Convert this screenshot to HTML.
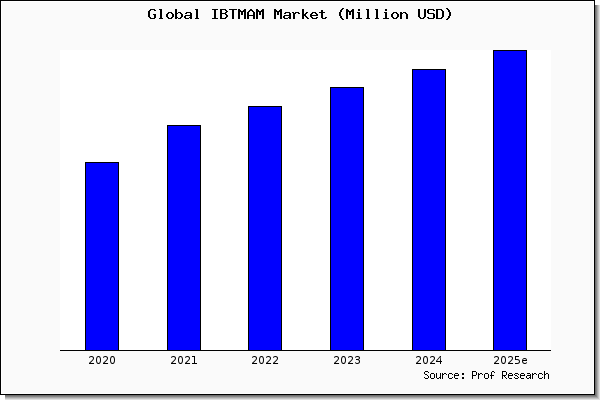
<!DOCTYPE html>
<html><head><meta charset="utf-8"><title>Global IBTMAM Market (Million USD)</title>
<style>
html,body{margin:0;padding:0;background:#fff;width:600px;height:400px;overflow:hidden;font-family:"Liberation Sans",sans-serif}
svg{display:block;position:absolute;left:0;top:0}
</style></head><body>
<svg width="600" height="400" viewBox="0 0 600 400">
<g shape-rendering="crispEdges">
<rect x="0" y="0" width="600" height="400" fill="#fff"/>
<rect x="5" y="5" width="595" height="395" fill="#e0e0e0"/><rect x="5" y="5" width="594" height="394" fill="#c4c4c4"/><rect x="5" y="5" width="593" height="393" fill="#a8a8a8"/><rect x="5" y="5" width="592" height="392" fill="#888888"/><rect x="5" y="5" width="591" height="391" fill="#707070"/>
<rect x="0" y="0" width="595" height="395" fill="#000"/>
<rect x="1" y="1" width="593" height="393" fill="#fff"/>
<rect x="2" y="2" width="591" height="391" fill="#fafafa"/>
<rect x="60" y="50" width="491" height="300" fill="#fff"/>
<rect x="85" y="162" width="34" height="189" fill="#000"/><rect x="86" y="163" width="32" height="187" fill="#00f"/><rect x="167" y="125" width="34" height="226" fill="#000"/><rect x="168" y="126" width="32" height="224" fill="#00f"/><rect x="248" y="106" width="34" height="245" fill="#000"/><rect x="249" y="107" width="32" height="243" fill="#00f"/><rect x="330" y="87" width="34" height="264" fill="#000"/><rect x="331" y="88" width="32" height="262" fill="#00f"/><rect x="412" y="69" width="34" height="282" fill="#000"/><rect x="413" y="70" width="32" height="280" fill="#00f"/><rect x="493" y="50" width="34" height="301" fill="#000"/><rect x="494" y="51" width="32" height="299" fill="#00f"/>
<rect x="60" y="350" width="491" height="1" fill="#000"/>
<path fill="#000" d="M342 8h2v1h-2zM446 8h2v1h-2zM150 9h5v1h-5zM159 9h3v1h-3zM175 9h2v1h-2zM195 9h3v1h-3zM212 9h6v1h-6zM220 9h6v1h-6zM229 9h8v1h-8zM238 9h2v1h-2zM244 9h2v1h-2zM250 9h2v1h-2zM256 9h2v1h-2zM262 9h2v1h-2zM274 9h2v1h-2zM280 9h2v1h-2zM302 9h2v1h-2zM341 9h2v1h-2zM346 9h2v1h-2zM352 9h2v1h-2zM358 9h2v1h-2zM366 9h3v1h-3zM375 9h3v1h-3zM385 9h2v1h-2zM418 9h2v1h-2zM424 9h2v1h-2zM428 9h6v1h-6zM436 9h6v1h-6zM447 9h2v1h-2zM149 10h2v1h-2zM154 10h2v1h-2zM160 10h2v1h-2zM175 10h2v1h-2zM196 10h2v1h-2zM214 10h2v1h-2zM220 10h2v1h-2zM225 10h2v1h-2zM232 10h2v1h-2zM238 10h3v1h-3zM243 10h3v1h-3zM249 10h4v1h-4zM256 10h3v1h-3zM261 10h3v1h-3zM274 10h3v1h-3zM279 10h3v1h-3zM302 10h2v1h-2zM321 10h2v1h-2zM340 10h2v1h-2zM346 10h3v1h-3zM351 10h3v1h-3zM358 10h2v1h-2zM367 10h2v1h-2zM376 10h2v1h-2zM385 10h2v1h-2zM418 10h2v1h-2zM424 10h2v1h-2zM427 10h2v1h-2zM433 10h2v1h-2zM436 10h2v1h-2zM441 10h2v1h-2zM448 10h2v1h-2zM148 11h2v1h-2zM160 11h2v1h-2zM175 11h2v1h-2zM196 11h2v1h-2zM214 11h2v1h-2zM220 11h2v1h-2zM226 11h2v1h-2zM232 11h2v1h-2zM238 11h8v1h-8zM248 11h2v1h-2zM252 11h2v1h-2zM256 11h8v1h-8zM274 11h8v1h-8zM302 11h2v1h-2zM321 11h2v1h-2zM340 11h2v1h-2zM346 11h8v1h-8zM367 11h2v1h-2zM376 11h2v1h-2zM418 11h2v1h-2zM424 11h2v1h-2zM427 11h2v1h-2zM436 11h2v1h-2zM442 11h2v1h-2zM448 11h2v1h-2zM148 12h2v1h-2zM160 12h2v1h-2zM168 12h4v1h-4zM175 12h2v1h-2zM178 12h3v1h-3zM186 12h5v1h-5zM196 12h2v1h-2zM214 12h2v1h-2zM220 12h2v1h-2zM225 12h2v1h-2zM232 12h2v1h-2zM238 12h2v1h-2zM241 12h2v1h-2zM244 12h2v1h-2zM247 12h2v1h-2zM253 12h2v1h-2zM256 12h2v1h-2zM259 12h2v1h-2zM262 12h2v1h-2zM274 12h2v1h-2zM277 12h2v1h-2zM280 12h2v1h-2zM285 12h5v1h-5zM292 12h2v1h-2zM295 12h4v1h-4zM302 12h2v1h-2zM306 12h2v1h-2zM312 12h4v1h-4zM319 12h6v1h-6zM339 12h2v1h-2zM346 12h2v1h-2zM349 12h2v1h-2zM352 12h2v1h-2zM357 12h3v1h-3zM367 12h2v1h-2zM376 12h2v1h-2zM384 12h3v1h-3zM393 12h4v1h-4zM400 12h2v1h-2zM403 12h3v1h-3zM418 12h2v1h-2zM424 12h2v1h-2zM427 12h2v1h-2zM436 12h2v1h-2zM442 12h2v1h-2zM449 12h2v1h-2zM148 13h2v1h-2zM160 13h2v1h-2zM167 13h2v1h-2zM171 13h2v1h-2zM175 13h3v1h-3zM180 13h2v1h-2zM185 13h2v1h-2zM190 13h2v1h-2zM196 13h2v1h-2zM214 13h2v1h-2zM220 13h6v1h-6zM232 13h2v1h-2zM238 13h2v1h-2zM241 13h2v1h-2zM244 13h2v1h-2zM247 13h2v1h-2zM253 13h2v1h-2zM256 13h2v1h-2zM259 13h2v1h-2zM262 13h2v1h-2zM274 13h2v1h-2zM277 13h2v1h-2zM280 13h2v1h-2zM284 13h2v1h-2zM289 13h2v1h-2zM293 13h3v1h-3zM298 13h2v1h-2zM302 13h2v1h-2zM305 13h2v1h-2zM311 13h2v1h-2zM315 13h2v1h-2zM321 13h2v1h-2zM339 13h2v1h-2zM346 13h2v1h-2zM349 13h2v1h-2zM352 13h2v1h-2zM358 13h2v1h-2zM367 13h2v1h-2zM376 13h2v1h-2zM385 13h2v1h-2zM392 13h2v1h-2zM396 13h2v1h-2zM400 13h3v1h-3zM405 13h2v1h-2zM418 13h2v1h-2zM424 13h2v1h-2zM428 13h6v1h-6zM436 13h2v1h-2zM442 13h2v1h-2zM449 13h2v1h-2zM148 14h2v1h-2zM153 14h3v1h-3zM160 14h2v1h-2zM166 14h2v1h-2zM172 14h2v1h-2zM175 14h2v1h-2zM181 14h2v1h-2zM190 14h2v1h-2zM196 14h2v1h-2zM214 14h2v1h-2zM220 14h2v1h-2zM225 14h2v1h-2zM232 14h2v1h-2zM238 14h2v1h-2zM241 14h2v1h-2zM244 14h2v1h-2zM247 14h2v1h-2zM253 14h2v1h-2zM256 14h2v1h-2zM259 14h2v1h-2zM262 14h2v1h-2zM274 14h2v1h-2zM277 14h2v1h-2zM280 14h2v1h-2zM289 14h2v1h-2zM293 14h2v1h-2zM302 14h4v1h-4zM310 14h2v1h-2zM316 14h2v1h-2zM321 14h2v1h-2zM339 14h2v1h-2zM346 14h2v1h-2zM349 14h2v1h-2zM352 14h2v1h-2zM358 14h2v1h-2zM367 14h2v1h-2zM376 14h2v1h-2zM385 14h2v1h-2zM391 14h2v1h-2zM397 14h2v1h-2zM400 14h2v1h-2zM406 14h2v1h-2zM418 14h2v1h-2zM424 14h2v1h-2zM433 14h2v1h-2zM436 14h2v1h-2zM442 14h2v1h-2zM449 14h2v1h-2zM148 15h2v1h-2zM154 15h2v1h-2zM160 15h2v1h-2zM166 15h2v1h-2zM172 15h2v1h-2zM175 15h2v1h-2zM181 15h2v1h-2zM185 15h7v1h-7zM196 15h2v1h-2zM214 15h2v1h-2zM220 15h2v1h-2zM226 15h2v1h-2zM232 15h2v1h-2zM238 15h2v1h-2zM244 15h2v1h-2zM247 15h8v1h-8zM256 15h2v1h-2zM262 15h2v1h-2zM274 15h2v1h-2zM280 15h2v1h-2zM284 15h7v1h-7zM293 15h2v1h-2zM302 15h4v1h-4zM310 15h8v1h-8zM321 15h2v1h-2zM339 15h2v1h-2zM346 15h2v1h-2zM352 15h2v1h-2zM358 15h2v1h-2zM367 15h2v1h-2zM376 15h2v1h-2zM385 15h2v1h-2zM391 15h2v1h-2zM397 15h2v1h-2zM400 15h2v1h-2zM406 15h2v1h-2zM418 15h2v1h-2zM424 15h2v1h-2zM433 15h2v1h-2zM436 15h2v1h-2zM442 15h2v1h-2zM449 15h2v1h-2zM148 16h2v1h-2zM154 16h2v1h-2zM160 16h2v1h-2zM166 16h2v1h-2zM172 16h2v1h-2zM175 16h2v1h-2zM181 16h2v1h-2zM184 16h2v1h-2zM190 16h2v1h-2zM196 16h2v1h-2zM214 16h2v1h-2zM220 16h2v1h-2zM226 16h2v1h-2zM232 16h2v1h-2zM238 16h2v1h-2zM244 16h2v1h-2zM247 16h2v1h-2zM253 16h2v1h-2zM256 16h2v1h-2zM262 16h2v1h-2zM274 16h2v1h-2zM280 16h2v1h-2zM283 16h2v1h-2zM289 16h2v1h-2zM293 16h2v1h-2zM302 16h2v1h-2zM305 16h2v1h-2zM310 16h2v1h-2zM321 16h2v1h-2zM340 16h2v1h-2zM346 16h2v1h-2zM352 16h2v1h-2zM358 16h2v1h-2zM367 16h2v1h-2zM376 16h2v1h-2zM385 16h2v1h-2zM391 16h2v1h-2zM397 16h2v1h-2zM400 16h2v1h-2zM406 16h2v1h-2zM418 16h2v1h-2zM424 16h2v1h-2zM433 16h2v1h-2zM436 16h2v1h-2zM442 16h2v1h-2zM448 16h2v1h-2zM149 17h2v1h-2zM154 17h2v1h-2zM160 17h2v1h-2zM167 17h2v1h-2zM171 17h2v1h-2zM175 17h3v1h-3zM180 17h2v1h-2zM184 17h2v1h-2zM189 17h3v1h-3zM196 17h2v1h-2zM214 17h2v1h-2zM220 17h2v1h-2zM225 17h2v1h-2zM232 17h2v1h-2zM238 17h2v1h-2zM244 17h2v1h-2zM247 17h2v1h-2zM253 17h2v1h-2zM256 17h2v1h-2zM262 17h2v1h-2zM274 17h2v1h-2zM280 17h2v1h-2zM283 17h2v1h-2zM288 17h3v1h-3zM293 17h2v1h-2zM302 17h2v1h-2zM306 17h2v1h-2zM311 17h2v1h-2zM316 17h2v1h-2zM321 17h2v1h-2zM325 17h2v1h-2zM340 17h2v1h-2zM346 17h2v1h-2zM352 17h2v1h-2zM358 17h2v1h-2zM367 17h2v1h-2zM376 17h2v1h-2zM385 17h2v1h-2zM392 17h2v1h-2zM396 17h2v1h-2zM400 17h2v1h-2zM406 17h2v1h-2zM419 17h2v1h-2zM423 17h2v1h-2zM427 17h2v1h-2zM433 17h2v1h-2zM436 17h2v1h-2zM441 17h2v1h-2zM448 17h2v1h-2zM150 18h5v1h-5zM159 18h4v1h-4zM168 18h4v1h-4zM175 18h2v1h-2zM178 18h3v1h-3zM185 18h4v1h-4zM190 18h2v1h-2zM195 18h4v1h-4zM212 18h6v1h-6zM220 18h6v1h-6zM232 18h2v1h-2zM238 18h2v1h-2zM244 18h2v1h-2zM247 18h2v1h-2zM253 18h2v1h-2zM256 18h2v1h-2zM262 18h2v1h-2zM274 18h2v1h-2zM280 18h2v1h-2zM284 18h4v1h-4zM289 18h2v1h-2zM293 18h2v1h-2zM302 18h2v1h-2zM307 18h2v1h-2zM312 18h5v1h-5zM322 18h4v1h-4zM341 18h2v1h-2zM346 18h2v1h-2zM352 18h2v1h-2zM356 18h6v1h-6zM366 18h4v1h-4zM375 18h4v1h-4zM383 18h6v1h-6zM393 18h4v1h-4zM400 18h2v1h-2zM406 18h2v1h-2zM420 18h4v1h-4zM428 18h6v1h-6zM436 18h6v1h-6zM447 18h2v1h-2zM342 19h2v1h-2zM446 19h2v1h-2z"/>
<path fill="#000" d="M425 371h3v1h-3zM472 371h4v1h-4zM492 371h2v1h-2zM502 371h4v1h-4zM544 371h1v1h-1zM424 372h1v1h-1zM428 372h1v1h-1zM472 372h1v1h-1zM476 372h1v1h-1zM491 372h1v1h-1zM494 372h1v1h-1zM502 372h1v1h-1zM506 372h1v1h-1zM544 372h1v1h-1zM424 373h1v1h-1zM431 373h3v1h-3zM436 373h1v1h-1zM440 373h1v1h-1zM442 373h1v1h-1zM444 373h2v1h-2zM449 373h3v1h-3zM455 373h3v1h-3zM462 373h2v1h-2zM472 373h1v1h-1zM476 373h1v1h-1zM478 373h1v1h-1zM480 373h2v1h-2zM485 373h3v1h-3zM491 373h1v1h-1zM502 373h1v1h-1zM506 373h1v1h-1zM509 373h3v1h-3zM515 373h3v1h-3zM521 373h3v1h-3zM527 373h3v1h-3zM532 373h1v1h-1zM534 373h2v1h-2zM539 373h3v1h-3zM544 373h1v1h-1zM546 373h2v1h-2zM425 374h2v1h-2zM430 374h1v1h-1zM434 374h1v1h-1zM436 374h1v1h-1zM440 374h1v1h-1zM442 374h2v1h-2zM446 374h1v1h-1zM448 374h1v1h-1zM452 374h1v1h-1zM454 374h1v1h-1zM458 374h1v1h-1zM462 374h2v1h-2zM472 374h1v1h-1zM476 374h1v1h-1zM478 374h2v1h-2zM482 374h1v1h-1zM484 374h1v1h-1zM488 374h1v1h-1zM491 374h1v1h-1zM502 374h1v1h-1zM506 374h1v1h-1zM508 374h1v1h-1zM512 374h1v1h-1zM514 374h1v1h-1zM518 374h1v1h-1zM520 374h1v1h-1zM524 374h1v1h-1zM530 374h1v1h-1zM532 374h2v1h-2zM536 374h1v1h-1zM538 374h1v1h-1zM542 374h1v1h-1zM544 374h2v1h-2zM548 374h1v1h-1zM427 375h1v1h-1zM430 375h1v1h-1zM434 375h1v1h-1zM436 375h1v1h-1zM440 375h1v1h-1zM442 375h1v1h-1zM448 375h1v1h-1zM454 375h5v1h-5zM472 375h4v1h-4zM478 375h1v1h-1zM484 375h1v1h-1zM488 375h1v1h-1zM490 375h4v1h-4zM502 375h4v1h-4zM508 375h5v1h-5zM515 375h2v1h-2zM520 375h5v1h-5zM527 375h4v1h-4zM532 375h1v1h-1zM538 375h1v1h-1zM544 375h1v1h-1zM548 375h1v1h-1zM428 376h1v1h-1zM430 376h1v1h-1zM434 376h1v1h-1zM436 376h1v1h-1zM440 376h1v1h-1zM442 376h1v1h-1zM448 376h1v1h-1zM454 376h1v1h-1zM472 376h1v1h-1zM478 376h1v1h-1zM484 376h1v1h-1zM488 376h1v1h-1zM491 376h1v1h-1zM502 376h1v1h-1zM504 376h1v1h-1zM508 376h1v1h-1zM517 376h1v1h-1zM520 376h1v1h-1zM526 376h1v1h-1zM530 376h1v1h-1zM532 376h1v1h-1zM538 376h1v1h-1zM544 376h1v1h-1zM548 376h1v1h-1zM424 377h1v1h-1zM428 377h1v1h-1zM430 377h1v1h-1zM434 377h1v1h-1zM436 377h1v1h-1zM439 377h2v1h-2zM442 377h1v1h-1zM448 377h1v1h-1zM452 377h1v1h-1zM454 377h1v1h-1zM462 377h2v1h-2zM472 377h1v1h-1zM478 377h1v1h-1zM484 377h1v1h-1zM488 377h1v1h-1zM491 377h1v1h-1zM502 377h1v1h-1zM505 377h1v1h-1zM508 377h1v1h-1zM514 377h1v1h-1zM518 377h1v1h-1zM520 377h1v1h-1zM526 377h1v1h-1zM529 377h2v1h-2zM532 377h1v1h-1zM538 377h1v1h-1zM542 377h1v1h-1zM544 377h1v1h-1zM548 377h1v1h-1zM425 378h3v1h-3zM431 378h3v1h-3zM437 378h2v1h-2zM440 378h1v1h-1zM442 378h1v1h-1zM449 378h3v1h-3zM455 378h3v1h-3zM462 378h2v1h-2zM472 378h1v1h-1zM478 378h1v1h-1zM485 378h3v1h-3zM491 378h1v1h-1zM502 378h1v1h-1zM506 378h1v1h-1zM509 378h3v1h-3zM515 378h3v1h-3zM521 378h3v1h-3zM527 378h2v1h-2zM530 378h1v1h-1zM532 378h1v1h-1zM539 378h3v1h-3zM544 378h1v1h-1zM548 378h1v1h-1z"/>
</g>
<g id="lb" fill="#000" shape-rendering="crispEdges">
<defs><g id="g0"><rect x="1" y="-8" width="1" height="1" opacity=".07"/><rect x="2" y="-8" width="1" height="1" opacity=".74"/><rect x="3" y="-8" width="1" height="1" opacity=".97"/><rect x="4" y="-8" width="1" height="1" opacity=".73"/><rect x="5" y="-8" width="1" height="1" opacity=".07"/><rect x="1" y="-7" width="1" height="1" opacity=".54"/><rect x="2" y="-7" width="1" height="1" opacity=".61"/><rect x="3" y="-7" width="1" height="1" opacity=".07"/><rect x="4" y="-7" width="1" height="1" opacity=".61"/><rect x="5" y="-7" width="1" height="1" opacity=".54"/><rect x="1" y="-6" width="1" height="1" opacity=".85"/><rect x="2" y="-6" width="1" height="1" opacity=".16"/><rect x="4" y="-6" width="1" height="1" opacity=".16"/><rect x="5" y="-6" width="1" height="1" opacity=".85"/><rect x="1" y="-5" width="1" height="1" opacity=".96"/><rect x="2" y="-5" width="1" height="1" opacity=".04"/><rect x="4" y="-5" width="1" height="1" opacity=".04"/><rect x="5" y="-5" width="1" height="1" opacity=".96"/><rect x="1" y="-4" width="1" height="1" opacity=".96"/><rect x="2" y="-4" width="1" height="1" opacity=".04"/><rect x="4" y="-4" width="1" height="1" opacity=".04"/><rect x="5" y="-4" width="1" height="1" opacity=".95"/><rect x="1" y="-3" width="1" height="1" opacity=".85"/><rect x="2" y="-3" width="1" height="1" opacity=".16"/><rect x="4" y="-3" width="1" height="1" opacity=".16"/><rect x="5" y="-3" width="1" height="1" opacity=".85"/><rect x="1" y="-2" width="1" height="1" opacity=".55"/><rect x="2" y="-2" width="1" height="1" opacity=".61"/><rect x="3" y="-2" width="1" height="1" opacity=".07"/><rect x="4" y="-2" width="1" height="1" opacity=".61"/><rect x="5" y="-2" width="1" height="1" opacity=".54"/><rect x="1" y="-1" width="1" height="1" opacity=".07"/><rect x="2" y="-1" width="1" height="1" opacity=".74"/><rect x="3" y="-1" width="1" height="1" opacity=".98"/><rect x="4" y="-1" width="1" height="1" opacity=".74"/><rect x="5" y="-1" width="1" height="1" opacity=".07"/></g><g id="g1"><rect x="1" y="-8" width="3" height="1"/><rect x="3" y="-7" width="1" height="1"/><rect x="3" y="-6" width="1" height="1"/><rect x="3" y="-5" width="1" height="1"/><rect x="3" y="-4" width="1" height="1"/><rect x="3" y="-3" width="1" height="1"/><rect x="3" y="-2" width="1" height="1"/><rect x="1" y="-1" width="5" height="1"/></g><g id="g2"><rect x="1" y="-8" width="1" height="1" opacity=".31"/><rect x="2" y="-8" width="1" height="1" opacity=".81"/><rect x="3" y="-8" width="1" height="1" opacity=".96"/><rect x="4" y="-8" width="1" height="1" opacity=".76"/><rect x="5" y="-8" width="1" height="1" opacity=".17"/><rect x="1" y="-7" width="1" height="1" opacity=".70"/><rect x="2" y="-7" width="1" height="1" opacity=".20"/><rect x="3" y="-7" width="1" height="1" opacity=".04"/><rect x="4" y="-7" width="1" height="1" opacity=".45"/><rect x="5" y="-7" width="1" height="1" opacity=".83"/><rect x="4" y="-6" width="1" height="1" opacity=".07"/><rect x="5" y="-6" width="1" height="1" opacity=".94"/><rect x="4" y="-5" width="1" height="1" opacity=".49"/><rect x="5" y="-5" width="1" height="1" opacity=".61"/><rect x="3" y="-4" width="1" height="1" opacity=".39"/><rect x="4" y="-4" width="1" height="1" opacity=".80"/><rect x="5" y="-4" width="1" height="1" opacity=".05"/><rect x="2" y="-3" width="1" height="1" opacity=".44"/><rect x="3" y="-3" width="1" height="1" opacity=".83"/><rect x="4" y="-3" width="1" height="1" opacity=".08"/><rect x="1" y="-2" width="1" height="1" opacity=".48"/><rect x="2" y="-2" width="1" height="1" opacity=".84"/><rect x="3" y="-2" width="1" height="1" opacity=".09"/><rect x="1" y="-1" width="5" height="1"/><rect x="6" y="-1" width="1" height="1" opacity=".05"/></g><g id="g3"><rect x="1" y="-8" width="1" height="1" opacity=".31"/><rect x="2" y="-8" width="1" height="1" opacity=".82"/><rect x="3" y="-8" width="1" height="1" opacity=".96"/><rect x="4" y="-8" width="1" height="1" opacity=".80"/><rect x="5" y="-8" width="1" height="1" opacity=".25"/><rect x="1" y="-7" width="1" height="1" opacity=".64"/><rect x="2" y="-7" width="1" height="1" opacity=".15"/><rect x="3" y="-7" width="1" height="1" opacity=".04"/><rect x="4" y="-7" width="1" height="1" opacity=".35"/><rect x="5" y="-7" width="1" height="1" opacity=".90"/><rect x="3" y="-6" width="1" height="1" opacity=".03"/><rect x="4" y="-6" width="1" height="1" opacity=".33"/><rect x="5" y="-6" width="1" height="1" opacity=".82"/><rect x="2" y="-5" width="2" height="1"/><rect x="4" y="-5" width="1" height="1" opacity=".93"/><rect x="5" y="-5" width="1" height="1" opacity=".17"/><rect x="3" y="-4" width="1" height="1" opacity=".05"/><rect x="4" y="-4" width="1" height="1" opacity=".50"/><rect x="5" y="-4" width="1" height="1" opacity=".76"/><rect x="4" y="-3" width="1" height="1" opacity=".05"/><rect x="5" y="-3" width="1" height="1" opacity=".96"/><rect x="1" y="-2" width="1" height="1" opacity=".60"/><rect x="2" y="-2" width="1" height="1" opacity=".12"/><rect x="3" y="-2" width="1" height="1" opacity=".06"/><rect x="4" y="-2" width="1" height="1" opacity=".51"/><rect x="5" y="-2" width="1" height="1" opacity=".76"/><rect x="1" y="-1" width="1" height="1" opacity=".36"/><rect x="2" y="-1" width="1" height="1" opacity=".87"/><rect x="3" y="-1" width="1" height="1" opacity=".94"/><rect x="4" y="-1" width="1" height="1" opacity=".71"/><rect x="5" y="-1" width="1" height="1" opacity=".13"/></g><g id="g4"><rect x="3" y="-8" width="1" height="1" opacity=".36"/><rect x="4" y="-8" width="1" height="1" opacity=".97"/><rect x="2" y="-7" width="1" height="1" opacity=".21"/><rect x="3" y="-7" width="1" height="1" opacity=".78"/><rect x="4" y="-7" width="1" height="1" opacity=".64"/><rect x="1" y="-6" width="1" height="1" opacity=".09"/><rect x="2" y="-6" width="1" height="1" opacity=".80"/><rect x="3" y="-6" width="1" height="1" opacity=".11"/><rect x="4" y="-6" width="1" height="1" opacity=".71"/><rect x="0" y="-5" width="1" height="1" opacity=".03"/><rect x="1" y="-5" width="1" height="1" opacity=".75"/><rect x="2" y="-5" width="1" height="1" opacity=".22"/><rect x="4" y="-5" width="1" height="1" opacity=".83"/><rect x="0" y="-4" width="1" height="1" opacity=".62"/><rect x="1" y="-4" width="1" height="1" opacity=".37"/><rect x="4" y="-4" width="1" height="1" opacity=".95"/><rect x="0" y="-3" width="6" height="1"/><rect x="4" y="-2" width="1" height="1"/><rect x="4" y="-1" width="1" height="1"/></g><g id="g5"><rect x="1" y="-8" width="4" height="1"/><rect x="1" y="-7" width="1" height="1"/><rect x="1" y="-6" width="1" height="1"/><rect x="1" y="-5" width="1" height="1"/><rect x="2" y="-5" width="1" height="1" opacity=".94"/><rect x="3" y="-5" width="1" height="1" opacity=".93"/><rect x="4" y="-5" width="1" height="1" opacity=".68"/><rect x="5" y="-5" width="1" height="1" opacity=".11"/><rect x="3" y="-4" width="1" height="1" opacity=".09"/><rect x="4" y="-4" width="1" height="1" opacity=".55"/><rect x="5" y="-4" width="1" height="1" opacity=".74"/><rect x="4" y="-3" width="1" height="1" opacity=".05"/><rect x="5" y="-3" width="1" height="1" opacity=".95"/><rect x="3" y="-2" width="1" height="1" opacity=".06"/><rect x="4" y="-2" width="1" height="1" opacity=".53"/><rect x="5" y="-2" width="1" height="1" opacity=".76"/><rect x="1" y="-1" width="2" height="1"/><rect x="3" y="-1" width="1" height="1" opacity=".94"/><rect x="4" y="-1" width="1" height="1" opacity=".71"/><rect x="5" y="-1" width="1" height="1" opacity=".13"/></g><g id="ge"><rect x="1" y="-6" width="1" height="1" opacity=".08"/><rect x="2" y="-6" width="1" height="1" opacity=".70"/><rect x="3" y="-6" width="1" height="1" opacity=".95"/><rect x="4" y="-6" width="1" height="1" opacity=".82"/><rect x="5" y="-6" width="1" height="1" opacity=".21"/><rect x="1" y="-5" width="1" height="1" opacity=".65"/><rect x="2" y="-5" width="1" height="1" opacity=".37"/><rect x="3" y="-5" width="1" height="1" opacity=".03"/><rect x="4" y="-5" width="1" height="1" opacity=".29"/><rect x="5" y="-5" width="1" height="1" opacity=".82"/><rect x="1" y="-4" width="1" height="1" opacity=".93"/><rect x="2" y="-4" width="3" height="1"/><rect x="5" y="-4" width="1" height="1" opacity=".99"/><rect x="1" y="-3" width="1" height="1" opacity=".93"/><rect x="2" y="-3" width="1" height="1" opacity=".10"/><rect x="1" y="-2" width="2" height="1" opacity=".64"/><rect x="3" y="-2" width="1" height="1" opacity=".08"/><rect x="4" y="-2" width="1" height="1" opacity=".11"/><rect x="5" y="-2" width="1" height="1" opacity=".65"/><rect x="1" y="-1" width="1" height="1" opacity=".07"/><rect x="2" y="-1" width="1" height="1" opacity=".65"/><rect x="3" y="-1" width="1" height="1" opacity=".93"/><rect x="4" y="-1" width="1" height="1" opacity=".87"/><rect x="5" y="-1" width="1" height="1" opacity=".33"/></g></defs><use href="#g2" x="88" y="364"/><use href="#g0" x="95" y="364"/><use href="#g2" x="102" y="364"/><use href="#g0" x="109" y="364"/><use href="#g2" x="170" y="364"/><use href="#g0" x="177" y="364"/><use href="#g2" x="184" y="364"/><use href="#g1" x="191" y="364"/><use href="#g2" x="251" y="364"/><use href="#g0" x="258" y="364"/><use href="#g2" x="265" y="364"/><use href="#g2" x="272" y="364"/><use href="#g2" x="333" y="364"/><use href="#g0" x="340" y="364"/><use href="#g2" x="347" y="364"/><use href="#g3" x="354" y="364"/><use href="#g2" x="415" y="364"/><use href="#g0" x="422" y="364"/><use href="#g2" x="429" y="364"/><use href="#g4" x="436" y="364"/><use href="#g2" x="493" y="364"/><use href="#g0" x="500" y="364"/><use href="#g2" x="507" y="364"/><use href="#g5" x="514" y="364"/><use href="#ge" x="521" y="364"/>
</g>
</svg>
</body></html>
